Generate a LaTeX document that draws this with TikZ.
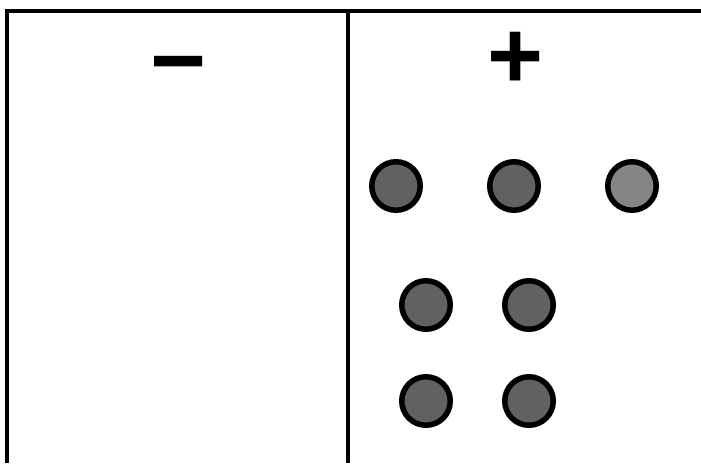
\documentclass[tikz,border=0pt]{standalone}
\usepackage{fontspec}
\setmainfont{Liberation Sans}
\usepackage{tikz}
\usetikzlibrary{positioning}

\begin{document}
\begin{tikzpicture}[x=1pt,y=-1pt,
    wall/.style={line width=4.5pt,draw=black},
    sign/.style={inner sep=0pt,font=\fontsize{96}{96}\selectfont\bfseries},
    bead/.style={circle,draw=black,line width=5.5pt,fill=black!62,
                 minimum size=48.5pt,inner sep=0pt}]
  \useasboundingbox (0,0) rectangle (701,463);
  % frame of the two halves
  \coordinate (bl) at (7,463);
  \coordinate (tl) at (7,11);
  \coordinate (tr) at (701,11);
  \coordinate (mt) at (348,11);
  \coordinate (mb) at (348,463);
  \draw[wall] (bl) -- (tl) -- (tr);
  \draw[wall] (mt) -- (mb);
  % signs
  \node[sign] (minus) at (179,75) {−};
  \node[sign] (plus) at (516,60) {+};
  % beads on the plus side
  \node[bead] (b1) at (396,186) {};
  \node[bead] (b2) at (514,186) {};
  \node[bead,fill=black!48] (b3) at (632,186) {};
  \node[bead] (b4) at (426,305) {};
  \node[bead] (b5) at (529,305) {};
  \node[bead] (b6) at (426,401) {};
  \node[bead] (b7) at (529,401) {};
\end{tikzpicture}
\end{document}
